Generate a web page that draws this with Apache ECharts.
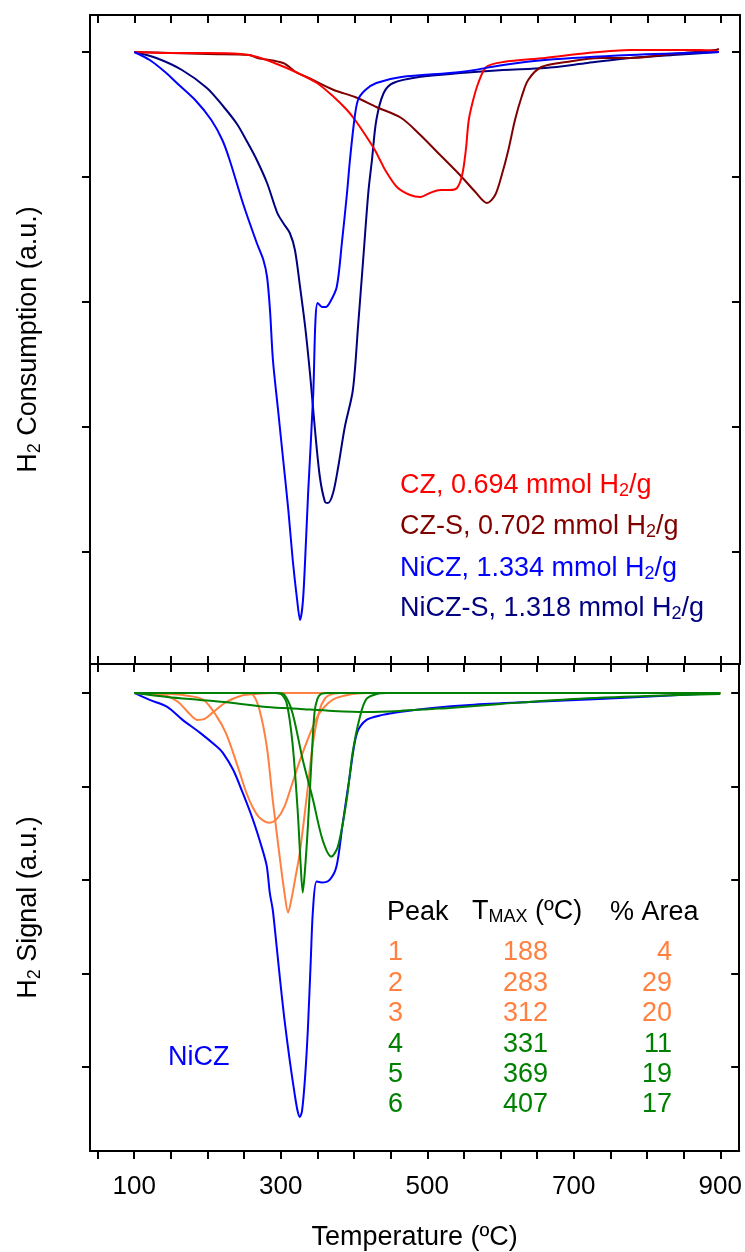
<!DOCTYPE html>
<html><head><meta charset="utf-8">
<script src="https://cdn.jsdelivr.net/npm/echarts@6/dist/echarts.min.js"></script>
<style>html,body{margin:0;padding:0;background:#fff}#c{width:745px;height:1252px}</style>
</head><body><div id="c"></div>
<script>
// ---------- tick values ----------
const tempTicks = [50,100,150,200,250,300,350,400,450,500,550,600,650,700,750,800,850,900];
const tempLabels = [100,300,500,700,900];
const topYTicks = [0,-125,-250,-375,-500];
const botYTicks = [0,-93.75,-187.5,-281.25,-375];

// ---------- top panel: H2 consumption (a.u.) ----------
const cz = [[100,0],[150,-1],[200,-1],[245,-2],[268,-5],[291,-11],[320,-20],[349,-31],[372,-45],[390,-58],[401,-68],[415,-83],[428,-98],[435,-108],[442,-118],[458,-135],[476,-143],[490,-145],[503,-141],[517,-138],[530,-138],[540,-136],[547,-123],[552,-98],[556,-68],[562,-48],[569,-31],[580,-15],[603,-10],[660,-6],[718,-1],[776,2],[871,2],[892,1],[897,0]];
const czS = [[100,0],[150,-1],[200,-2],[257,-3],[268,-6],[303,-11],[320,-20],[338,-26],[372,-38],[401,-45],[430,-55],[464,-66],[490,-83],[517,-103],[544,-123],[565,-140],[581,-151],[592,-143],[601,-123],[610,-98],[619,-68],[628,-45],[637,-28],[655,-15],[689,-10],[735,-6],[776,-6],[834,-2],[892,2],[897,3]];
const niCZ = [[100,0],[121,-8],[142,-20],[158,-31],[183,-48],[205,-68],[220,-88],[230,-108],[248,-151],[267,-191],[276,-208],[281,-225],[285,-258],[289,-308],[296,-358],[303,-408],[310,-458],[316,-508],[322,-548],[326,-568],[330,-548],[334,-490],[337,-441],[344,-341],[347,-268],[350,-251],[356,-255],[361,-255],[367,-250],[376,-235],[383,-191],[390,-141],[394,-108],[400,-68],[405,-48],[415,-38],[430,-31],[464,-25],[545,-20],[603,-13],[660,-8],[776,-3],[897,0]];
const niCZS = [[100,0],[130,-6],[165,-18],[199,-36],[222,-55],[240,-72],[254,-90],[267,-108],[281,-131],[295,-161],[303,-171],[312,-181],[319,-198],[326,-235],[333,-275],[340,-325],[346,-375],[353,-425],[360,-450],[364,-451],[371,-441],[378,-415],[387,-375],[398,-338],[405,-275],[412,-208],[419,-141],[424,-108],[430,-68],[440,-41],[453,-31],[488,-25],[545,-21],[603,-18],[660,-16],[718,-11],[776,-6],[834,-3],[897,0]];

// ---------- bottom panel: NiCZ signal and fitted peaks ----------
const niCZSignal = [[100,0],[121,-7],[145,-14],[166,-27],[190,-40],[213,-54],[221,-60],[235,-77],[248,-100],[262,-127],[275,-157],[281,-174],[285,-200],[289,-217],[292,-237],[299,-287],[305,-327],[312,-367],[319,-402],[323,-419],[326,-425],[329,-419],[333,-387],[337,-337],[341,-267],[344,-217],[349,-189],[356,-190],[367,-187],[376,-174],[384,-134],[394,-84],[404,-40],[417,-27],[439,-22],[462,-19],[507,-15],[558,-12],[640,-9],[735,-6],[817,-3],[896,0]];
const peak1 = [[100,0],[125,-1],[145,-3],[160,-9],[173,-19],[186,-27],[196,-26],[208,-19],[226,-9],[245,-3],[265,-1],[290,0],[900,0]];
const peak2 = [[100,0],[150,-1],[175,-3],[195,-7],[213,-24],[225,-40],[235,-60],[245,-82],[253,-100],[262,-115],[271,-125],[285,-130],[295,-126],[305,-114],[316,-90],[325,-70],[335,-50],[345,-32],[353,-20],[365,-10],[376,-5],[398,-1],[420,0],[900,0]];
const peak3 = [[100,0],[250,0],[262,-2],[271,-17],[281,-54],[289,-107],[299,-167],[305,-200],[310,-220],[315,-205],[320,-185],[326,-160],[335,-107],[344,-50],[353,-17],[360,-6],[367,-2],[380,0],[900,0]];
const peak4 = [[100,0],[290,0],[300,-1],[308,-10],[316,-50],[323,-117],[327,-170],[330,-200],[333,-178],[337,-134],[342,-67],[346,-20],[350,-6],[355,-1],[365,0],[900,0]];
const peak5 = [[100,0],[295,0],[305,-2],[316,-20],[330,-67],[344,-107],[357,-147],[369,-164],[378,-154],[390,-107],[398,-60],[408,-24],[417,-6],[431,-1],[445,0],[900,0]];
const peak6 = [[100,0],[145,-4],[190,-7],[235,-10],[281,-14],[326,-16],[371,-18],[417,-19],[462,-18],[507,-16],[530,-15],[600,-11],[700,-6],[800,-3],[900,-1]];

// ---------- annotations ----------
const legendNames = ['CZ','CZ-S','NiCZ','NiCZ-S'];
const legendAmounts = ['0.694','0.702','1.334','1.318'];
const peakIds = ['1','2','3','4','5','6'];
const peakTmax = ['188','283','312','331','369','407'];
const peakArea = ['4','29','20','11','19','17'];

// ---------- styles ----------
const C_CZ = '#ff0000', C_CZS = '#800000', C_NI = '#0000ff', C_NIS = '#000080';
const C_OR = '#ff8040', C_GR = '#008000';
const legendColors = [C_CZ, C_CZS, C_NI, C_NIS];
const peakColors = [C_OR, C_OR, C_OR, C_GR, C_GR, C_GR];
const FF = '"Liberation Sans", Arial, sans-serif';
const FS = 27, SUB = 18;

const chart = echarts.init(document.getElementById('c'), null, {renderer:'canvas'});

const X_MIN = 39.6, X_MAX = 925.8;
function xAx(grid, pos, inside, labels) {
  return {
    type:'value', gridIndex:grid, position:pos, min:X_MIN, max:X_MAX,
    axisLine:{show:true, onZero:false, lineStyle:{color:'#000', width:2}},
    axisTick:{show:true, inside:inside, length:8, customValues:tempTicks, lineStyle:{color:'#000', width:2}},
    axisLabel: labels ? {show:true, customValues:tempLabels, margin:23, color:'#000', fontSize:26, fontFamily:FF} : {show:false},
    splitLine:{show:false}
  };
}
function subRich(color, lh) {
  return {
    a:{fontSize:FS, lineHeight:30, color:color, fill:color, fontFamily:FF},
    s:{fontSize:SUB, lineHeight:lh, verticalAlign:'bottom', color:color, fill:color, fontFamily:FF}
  };
}
function yAx(grid, pos, inside, ticks, min, max, name) {
  const o = {
    type:'value', gridIndex:grid, position:pos, min:min, max:max,
    axisLine:{show:true, onZero:false, lineStyle:{color:'#000', width:2}},
    axisTick:{show:true, inside:inside, length:8, customValues:ticks, lineStyle:{color:'#000', width:2}},
    axisLabel:{show:false}, splitLine:{show:false}
  };
  if (name) {
    o.name = name; o.nameLocation = 'middle'; o.nameRotate = 90; o.nameGap = 46;
    o.nameTextStyle = {fontFamily:FF, rich:subRich('#000', 12)};
  }
  return o;
}

const xA = [xAx(0,'bottom',true,false), xAx(0,'top',true,false), xAx(1,'top',true,false), xAx(1,'bottom',false,true)];
xA[3].name = 'Temperature (ºC)';
xA[3].nameLocation = 'middle';
xA[3].nameGap = 73;
xA[3].nameTextStyle = {fontSize:FS, color:'#000', fontFamily:FF};

const yA = [
  yAx(0,'left',false,topYTicks,-612,37,'{a|H}{s|2}{a| Consumption (a.u.)}'),
  yAx(0,'right',true,topYTicks,-612,37,null),
  yAx(1,'left',false,botYTicks,-459,29,'{a|H}{s|2}{a| Signal (a.u.)}'),
  yAx(1,'right',true,botYTicks,-459,29,null)
];

function line(data, color, xi, yi, z) {
  return {type:'line', data:data, xAxisIndex:xi, yAxisIndex:yi, showSymbol:false, smooth:0.3,
    lineStyle:{color:color, width:2}, itemStyle:{color:color}, z:z||2, silent:true};
}

const series = [
  line(niCZS, C_NIS, 0, 0, 2),
  line(czS, C_CZS, 0, 0, 3),
  line(cz, C_CZ, 0, 0, 4),
  line(niCZ, C_NI, 0, 0, 5),
  line(niCZSignal, C_NI, 3, 2, 2),
  line(peak1, C_OR, 3, 2, 3),
  line(peak2, C_OR, 3, 2, 3),
  line(peak3, C_OR, 3, 2, 3),
  line(peak4, C_GR, 3, 2, 4),
  line(peak5, C_GR, 3, 2, 4),
  line(peak6, C_GR, 3, 2, 4)
];

// graphic texts
const graphics = [];
const legendRowY = [487, 528, 570, 610];
legendNames.forEach((n, i) => {
  const c = legendColors[i];
  graphics.push({type:'text', left:400, top:legendRowY[i]-15, z:10, style:{
    text:'{a|' + n + ', ' + legendAmounts[i] + ' mmol H}{s|2}{a|/g}',
    fill:c, rich:subRich(c, 12)}});
});
// table header
graphics.push({type:'text', left:387, top:913-15, z:10, style:{text:'Peak', fill:'#000', fontSize:FS, lineHeight:30, fontFamily:FF}});
graphics.push({type:'text', left:472, top:913-15, z:10, style:{text:'{a|T}{s|MAX}{a| (ºC)}', fill:'#000', rich:subRich('#000', 8)}});
graphics.push({type:'text', left:610, top:913-15, z:10, style:{text:'% Area', fill:'#000', fontSize:FS, lineHeight:30, fontFamily:FF}});
const rowY = [953, 983.4, 1013.8, 1044.2, 1074.6, 1105];
peakIds.forEach((p, i) => {
  const c = peakColors[i];
  graphics.push({type:'text', left:388, top:rowY[i]-15, z:10, style:{text:p, fill:c, fontSize:FS, lineHeight:30, fontFamily:FF}});
  graphics.push({type:'text', right:745-548, top:rowY[i]-15, z:10, style:{text:peakTmax[i], fill:c, fontSize:FS, lineHeight:30, fontFamily:FF, align:'right'}});
  graphics.push({type:'text', right:745-672, top:rowY[i]-15, z:10, style:{text:peakArea[i], fill:c, fontSize:FS, lineHeight:30, fontFamily:FF, align:'right'}});
});
graphics.push({type:'text', left:168, top:1058-15, z:10, style:{text:'NiCZ', fill:C_NI, fontSize:FS, lineHeight:30, fontFamily:FF}});

chart.setOption({
  animation:false,
  backgroundColor:'#fff',
  grid:[{left:90, top:15, width:650, height:649}, {left:90, top:664, width:650, height:488}],
  xAxis:xA, yAxis:yA, series:series, graphic:graphics
});
</script></body></html>
